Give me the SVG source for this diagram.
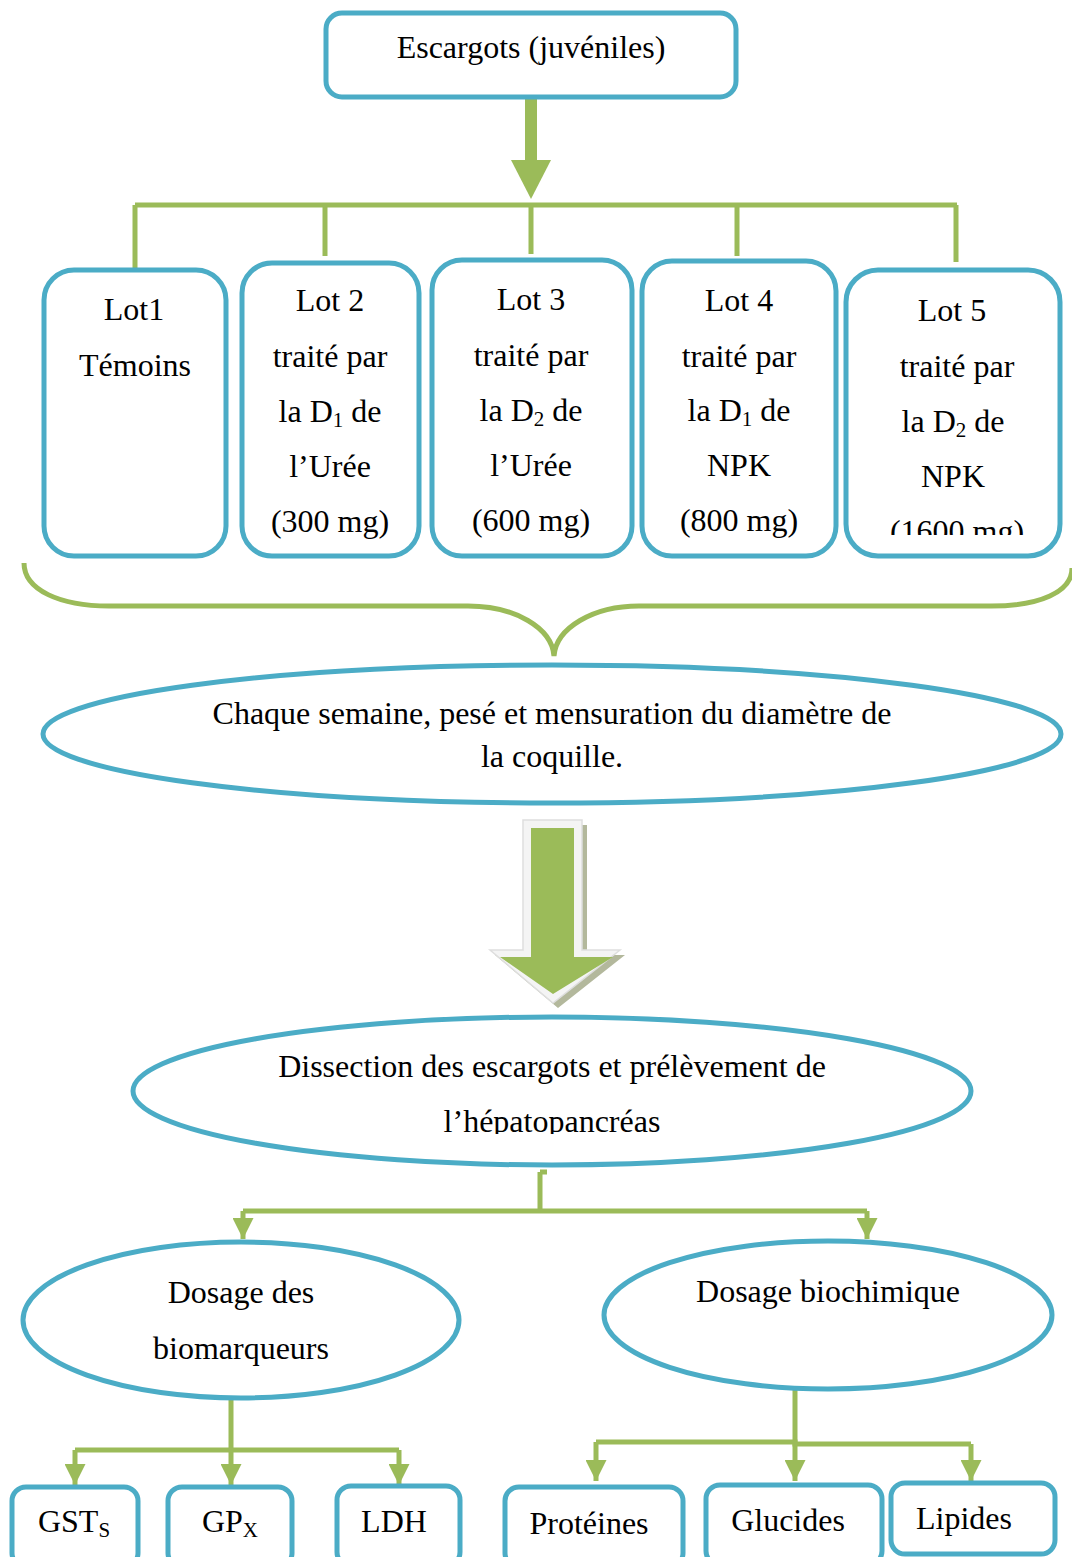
<svg xmlns="http://www.w3.org/2000/svg" width="1072" height="1557" viewBox="0 0 1072 1557">
  <style>
    .box { fill: #ffffff; stroke: #4BACC6; stroke-width: 5; }
    .ell { fill: #ffffff; stroke: #4BACC6; stroke-width: 5; }
    .ln { fill: none; stroke: #9BBB59; stroke-width: 5; }
    .t { font-family: "Liberation Serif", "Times New Roman", serif; font-size: 32px; fill: #000000; text-anchor: middle; }
    .sub { font-size: 21px; }
  </style>
  <defs>
    <marker id="ah" viewBox="0 0 10 10" refX="10" refY="5" markerWidth="4.2" markerHeight="4.2" markerUnits="strokeWidth" orient="auto">
      <path d="M0,0 L10,5 L0,10 Z" fill="#9BBB59"/>
    </marker>
    <clipPath id="clipLot5"><rect x="846" y="270" width="214" height="265"/></clipPath>
    <clipPath id="clipDis"><rect x="133" y="1016" width="840" height="118"/></clipPath>
  </defs>

  <!-- connectors -->
  <g id="connectors">
    <!-- top arrow -->
    <rect x="525" y="97" width="12" height="64" fill="#9BBB59"/>
    <polygon points="511,160 551,160 531,199" fill="#9BBB59"/>
    <!-- distribution bar to the five lots -->
    <path class="ln" stroke-width="6" d="M135,205 H957"/>
    <path class="ln" stroke-width="6" d="M135,205 V268 M325,205 V256 M531,205 V254 M737,205 V256 M956,205 V262"/>
    <!-- brace -->
    <path class="ln" d="M24,563 C24,590 60,606 109,606 L468,606 C515,606 552,628 554,656 C556,628 593,606 639,606 L991,606 C1040,606 1072,592 1072,568"/>
    <!-- block arrow -->
    <polygon points="528,825 587,825 587,955 625,955 558,1008 495,955 528,955" fill="#b3b89c"/>
    <polygon points="523,820 582,820 582,950 620,950 553,1003 490,950 523,950" fill="#f4f4f4" stroke="#dedede" stroke-width="1.5"/>
    <polygon points="531,828 574,828 574,957 613,957 553,994 500,957 531,957" fill="#9BBB59"/>
    <!-- split after dissection -->
    <path class="ln" d="M540,1172 H547 M540,1172 V1211"/>
    <path class="ln" d="M243,1211 H867"/>
    <path class="ln" marker-end="url(#ah)" d="M243,1211 V1239"/>
    <path class="ln" marker-end="url(#ah)" d="M867,1211 V1239"/>
    <!-- biomarkers -->
    <path class="ln" d="M231,1400 V1450 M75,1450 H399"/>
    <path class="ln" marker-end="url(#ah)" d="M75,1450 V1485"/>
    <path class="ln" marker-end="url(#ah)" d="M231,1450 V1485"/>
    <path class="ln" marker-end="url(#ah)" d="M399,1450 V1485"/>
    <!-- biochemistry -->
    <path class="ln" stroke-width="9" d="M795,1387 V1443"/>
    <path class="ln" d="M596,1442 H795 V1444 H971"/>
    <path class="ln" marker-end="url(#ah)" d="M596,1442 V1481"/>
    <path class="ln" marker-end="url(#ah)" d="M795,1443 V1481"/>
    <path class="ln" marker-end="url(#ah)" d="M971,1444 V1481"/>
  </g>

  <g id="escargots">
    <rect class="box" x="326" y="13" width="410" height="84" rx="16"/>
    <text class="t" x="531" y="58">Escargots (juvéniles)</text>
  </g>

  <g id="lot1">
    <rect class="box" x="44" y="270" width="182" height="286" rx="30"/>
    <text class="t" x="134" y="320">Lot1</text>
    <text class="t" x="135" y="376">Témoins</text>
  </g>

  <g id="lot2">
    <rect class="box" x="242" y="263" width="177" height="293" rx="30"/>
    <text class="t" x="330" y="311">Lot 2</text>
    <text class="t" x="330" y="367">traité par</text>
    <text class="t" x="330" y="422">la D<tspan class="sub" dy="5">1</tspan><tspan dy="-5"> de</tspan></text>
    <text class="t" x="330" y="477">l’Urée</text>
    <text class="t" x="330" y="532">(300 mg)</text>
  </g>

  <g id="lot3">
    <rect class="box" x="432" y="260" width="200" height="296" rx="30"/>
    <text class="t" x="531" y="310">Lot 3</text>
    <text class="t" x="531" y="366">traité par</text>
    <text class="t" x="531" y="421">la D<tspan class="sub" dy="5">2</tspan><tspan dy="-5"> de</tspan></text>
    <text class="t" x="531" y="476">l’Urée</text>
    <text class="t" x="531" y="531">(600 mg)</text>
  </g>

  <g id="lot4">
    <rect class="box" x="642" y="261" width="194" height="295" rx="30"/>
    <text class="t" x="739" y="311">Lot 4</text>
    <text class="t" x="739" y="367">traité par</text>
    <text class="t" x="739" y="421">la D<tspan class="sub" dy="5">1</tspan><tspan dy="-5"> de</tspan></text>
    <text class="t" x="739" y="476">NPK</text>
    <text class="t" x="739" y="531">(800 mg)</text>
  </g>

  <g id="lot5">
    <rect class="box" x="846" y="270" width="214" height="286" rx="32"/>
    <text class="t" x="952" y="321">Lot 5</text>
    <text class="t" x="957" y="377">traité par</text>
    <text class="t" x="953" y="432">la D<tspan class="sub" dy="5">2</tspan><tspan dy="-5"> de</tspan></text>
    <text class="t" x="953" y="487">NPK</text>
    <g clip-path="url(#clipLot5)">
      <text class="t" x="957" y="542">(1600 mg)</text>
    </g>
  </g>

  <g id="mesure">
    <ellipse class="ell" cx="552" cy="734" rx="509" ry="69"/>
    <text class="t" x="552" y="724">Chaque semaine, pesé et mensuration du diamètre de</text>
    <text class="t" x="552" y="767">la coquille.</text>
  </g>

  <g id="dissection">
    <ellipse class="ell" cx="552" cy="1091" rx="419" ry="74"/>
    <text class="t" x="552" y="1077">Dissection des escargots et prélèvement de</text>
    <g clip-path="url(#clipDis)">
      <text class="t" x="552" y="1132">l’hépatopancréas</text>
    </g>
  </g>

  <g id="biomarqueurs">
    <ellipse class="ell" cx="241" cy="1320" rx="218" ry="78"/>
    <text class="t" x="241" y="1303">Dosage des</text>
    <text class="t" x="241" y="1359">biomarqueurs</text>
  </g>

  <g id="biochimique">
    <ellipse class="ell" cx="828" cy="1315" rx="224" ry="74"/>
    <text class="t" x="828" y="1302">Dosage biochimique</text>
  </g>

  <g id="gsts">
    <rect class="box" x="12" y="1487" width="126" height="80" rx="14"/>
    <text class="t" x="74" y="1532">GST<tspan class="sub" dy="5">S</tspan></text>
  </g>
  <g id="gpx">
    <rect class="box" x="168" y="1487" width="124" height="80" rx="14"/>
    <text class="t" x="230" y="1532">GP<tspan class="sub" dy="5">X</tspan></text>
  </g>
  <g id="ldh">
    <rect class="box" x="337" y="1486" width="123" height="80" rx="14"/>
    <text class="t" x="394" y="1532">LDH</text>
  </g>
  <g id="proteines">
    <rect class="box" x="505" y="1487" width="178" height="80" rx="14"/>
    <text class="t" x="589" y="1534">Protéines</text>
  </g>
  <g id="glucides">
    <rect class="box" x="706" y="1485" width="176" height="80" rx="14"/>
    <text class="t" x="788" y="1531">Glucides</text>
  </g>
  <g id="lipides">
    <rect class="box" x="891" y="1483" width="164" height="71" rx="14"/>
    <text class="t" x="964" y="1529">Lipides</text>
  </g>
</svg>
